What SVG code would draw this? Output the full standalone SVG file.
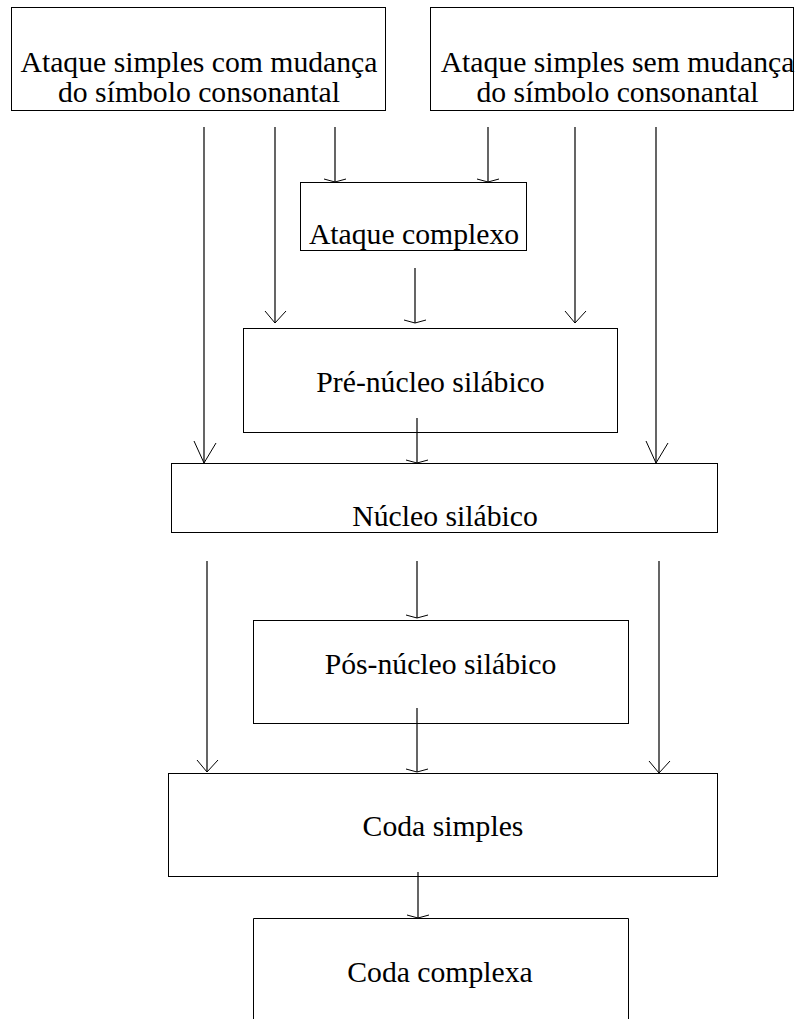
<svg xmlns="http://www.w3.org/2000/svg" width="795" height="1019" viewBox="0 0 795 1019">
<style>
.box{fill:#fff;stroke:#000;stroke-width:1}
.t{font-family:'Liberation Serif',serif;font-size:29.7px;fill:#000;text-anchor:middle}
.ln{stroke:#000;stroke-width:1.2;fill:none}
.hd{stroke:#000;stroke-width:1;fill:none}
</style>
<rect width="795" height="1019" fill="#fff"/>
<g id="n1"><rect class="box" x="11.5" y="7.5" width="374" height="103"/><text class="t" x="199" y="72">Ataque simples com mudança</text><text class="t" x="199" y="102">do símbolo consonantal</text></g>
<g id="n2"><rect class="box" x="430.5" y="7.5" width="363" height="103"/><text class="t" x="617.5" y="72">Ataque simples sem mudança</text><text class="t" x="617.5" y="102">do símbolo consonantal</text></g>
<g id="n3"><rect class="box" x="300.5" y="182.5" width="226" height="68"/><text class="t" x="414" y="244">Ataque complexo</text></g>
<g id="n4"><rect class="box" x="243.5" y="328.5" width="374" height="104"/><text class="t" x="430.5" y="392">Pré-núcleo silábico</text></g>
<g id="n5"><rect class="box" x="171.5" y="463.5" width="546" height="69"/><text class="t" x="445" y="526">Núcleo silábico</text></g>
<g id="n6"><rect class="box" x="253.5" y="620.5" width="375" height="103"/><text class="t" x="440.5" y="674">Pós-núcleo silábico</text></g>
<g id="n7"><rect class="box" x="168.5" y="773.5" width="549" height="103"/><text class="t" x="443" y="836">Coda simples</text></g>
<g id="n8"><path class="box" d="M253.5 1020 V918.5 H628.5 V1020"/><text class="t" x="440" y="982">Coda complexa</text></g>
<g id="connectors">
<path class="ln" d="M204 127V463M275 127V323M335 127V182M488 127V182M575 127V323M656 127V463M415 268V323M417 418V463M207 561V772M417 561V618M659 561V773M417 708V772M418 872V918"/>
<path class="hd" d="M194 441L204 463L216 443M646 441L656 463L668 443"/>
<path class="hd" d="M265 311L275 323L286 311M565 311L575 323L586 311M197 760L207 772L218 760M649 761L659 773L670 761"/>
<path class="hd" d="M324 179L335 182L346 179M477 179L488 182L499 179M404 320L415 323L426 320M406 460L417 463L428 460M406 615L417 618L428 615M406 769L417 772L428 769M407 915L418 918L429 915"/>
</g>
</svg>
